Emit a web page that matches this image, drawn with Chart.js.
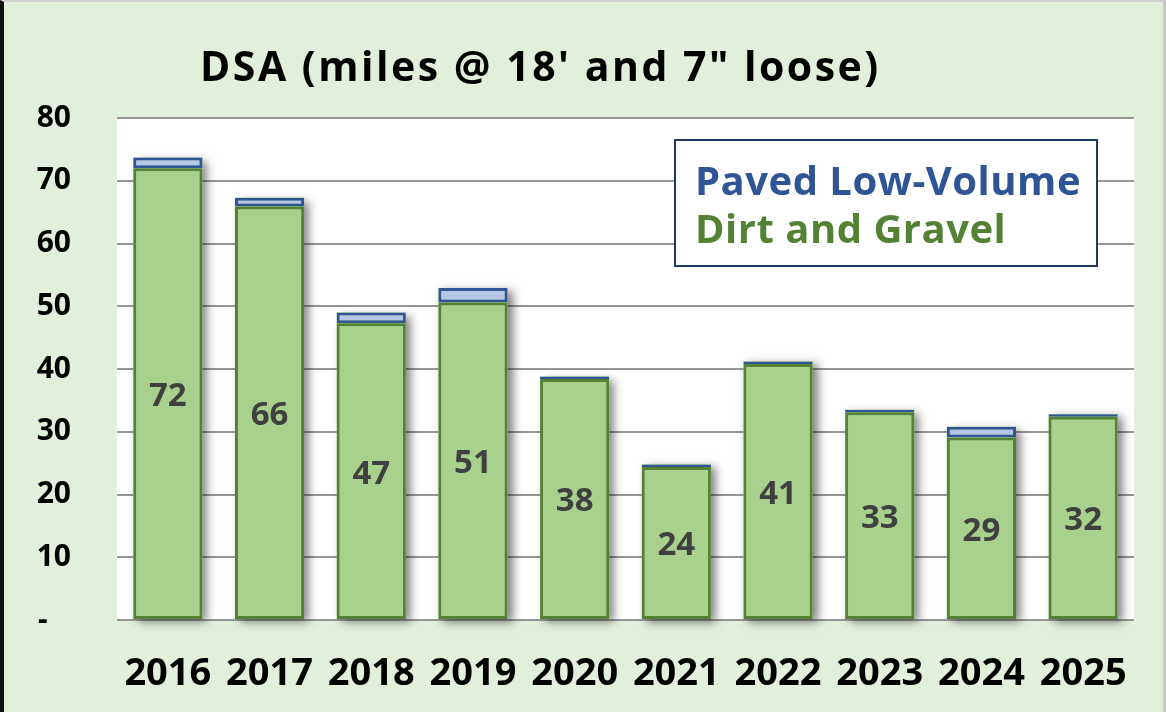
<!DOCTYPE html>
<html>
<head>
<meta charset="utf-8">
<script src="https://cdn.jsdelivr.net/npm/chart.js@4"></script>
<style>
  html, body { margin: 0; padding: 0; background: #e2efda; }
  #wrap {
    width: 1166px; height: 712px; box-sizing: border-box;
    border-left: 4px solid #111; border-top: 2px solid #d0d0d0; border-right: 3px solid #c8c8c8;
    background: #e2efda;
  }
  canvas { display: block; }
</style>
</head>
<body>
<div id="wrap"><canvas id="dsaChart" width="1159" height="710"></canvas></div>
<script>
const years = ["2016", "2017", "2018", "2019", "2020", "2021", "2022", "2023", "2024", "2025"];
const dirtGravel = [72.0, 65.9, 47.3, 50.6, 38.4, 24.4, 40.8, 33.1, 29.1, 32.4];
const pavedLowVolume = [1.7, 1.4, 1.7, 2.3, 0.4, 0.4, 0.4, 0.4, 1.7, 0.4];
const yTicks = [0, 10, 20, 30, 40, 50, 60, 70, 80];

const FONT = "'Open Sans', Lato, sans-serif";

// plot area white, bar shadows, data labels, title and the legend text box
const decor = {
  id: "decor",
  beforeDraw(chart) {
    const { ctx, chartArea: a } = chart;
    ctx.save();
    ctx.fillStyle = "#ffffff";
    ctx.fillRect(a.left, a.top, a.right - a.left, a.bottom - a.top);
    ctx.restore();
  },
  beforeDatasetsDraw(chart) {
    // bar element clips its own drawing, so cast the shadow from a rect behind each stack
    const ctx = chart.ctx;
    const lower = chart.getDatasetMeta(0).data;
    const upper = chart.getDatasetMeta(1).data;
    ctx.save();
    ctx.shadowColor = "rgba(0,0,0,0.5)";
    ctx.shadowBlur = 9;
    ctx.shadowOffsetX = 5;
    ctx.shadowOffsetY = 3;
    ctx.fillStyle = "#a9d18e";
    lower.forEach((bar, i) => {
      const top = upper[i].y;
      ctx.fillRect(bar.x - bar.width / 2, top, bar.width, bar.base - top);
    });
    ctx.restore();
  },
  afterDatasetsDraw(chart) {
    const ctx = chart.ctx;
    const meta = chart.getDatasetMeta(0);
    ctx.save();
    ctx.fillStyle = "#404040";
    ctx.font = "bold 33px " + FONT;
    ctx.textAlign = "center";
    ctx.textBaseline = "middle";
    meta.data.forEach((bar, i) => {
      ctx.fillText(Math.round(dirtGravel[i]), bar.x, (bar.y + bar.base) / 2 + 3);
    });
    ctx.restore();
  },
  afterDraw(chart) {
    const { ctx, chartArea: a } = chart;
    ctx.save();
    ctx.fillStyle = "#000";
    ctx.font = "bold 41px " + FONT;
    ctx.letterSpacing = "2.5px";
    ctx.textBaseline = "alphabetic";
    ctx.fillText("DSA (miles @ 18' and 7\" loose)", a.left + 83, 79);
    ctx.letterSpacing = "0.5px";

    const bx = a.left + 558, by = a.top + 22, bw = 422, bh = 126;
    ctx.fillStyle = "#fff";
    ctx.fillRect(bx, by, bw, bh);
    ctx.strokeStyle = "#1f3864";
    ctx.lineWidth = 2;
    ctx.strokeRect(bx, by, bw, bh);
    ctx.font = "bold 40px " + FONT;
    ctx.fillStyle = "#2f5597";
    ctx.fillText("Paved Low-Volume", bx + 20, by + 55);
    ctx.fillStyle = "#548235";
    ctx.fillText("Dirt and Gravel", bx + 20, by + 103);
    ctx.restore();
  }
};

new Chart(document.getElementById("dsaChart"), {
  type: "bar",
  data: {
    labels: years,
    datasets: [
      {
        label: "Dirt and Gravel",
        data: dirtGravel,
        backgroundColor: "#a9d18e",
        borderColor: "#548235",
        borderWidth: 3,
        borderSkipped: false,
      },
      {
        label: "Paved Low-Volume",
        data: pavedLowVolume,
        backgroundColor: "#b4c7e7",
        borderColor: "#2f5597",
        borderWidth: 3,
        borderSkipped: false,
      },
    ],
  },
  options: {
    responsive: false,
    animation: false,
    layout: { padding: { top: 116, right: 29, left: 0, bottom: 0 } },
    datasets: { bar: { barPercentage: 0.68, categoryPercentage: 1 } },
    plugins: { legend: { display: false }, title: { display: false }, tooltip: { enabled: false } },
    scales: {
      x: {
        stacked: true,
        grid: { display: false },
        border: { display: false },
        ticks: { color: "#000", font: { family: FONT, size: 38, weight: "bold" }, padding: 23 },
        afterFit: (s) => { s.height = 92; },
      },
      y: {
        stacked: true,
        min: 0,
        max: 80,
        afterBuildTicks: (s) => { s.ticks = yTicks.map((v) => ({ value: v })); },
        grid: { color: "#969696", lineWidth: 2, drawTicks: false },
        border: { display: false },
        ticks: {
          color: "#000",
          font: { family: FONT, size: 30, weight: "bold" },
          padding: 46,
          callback: (v) => (v === 0 ? "-   " : v),
        },
        afterFit: (s) => { s.width = 113; },
      },
    },
  },
  plugins: [decor],
});
</script>
</body>
</html>
